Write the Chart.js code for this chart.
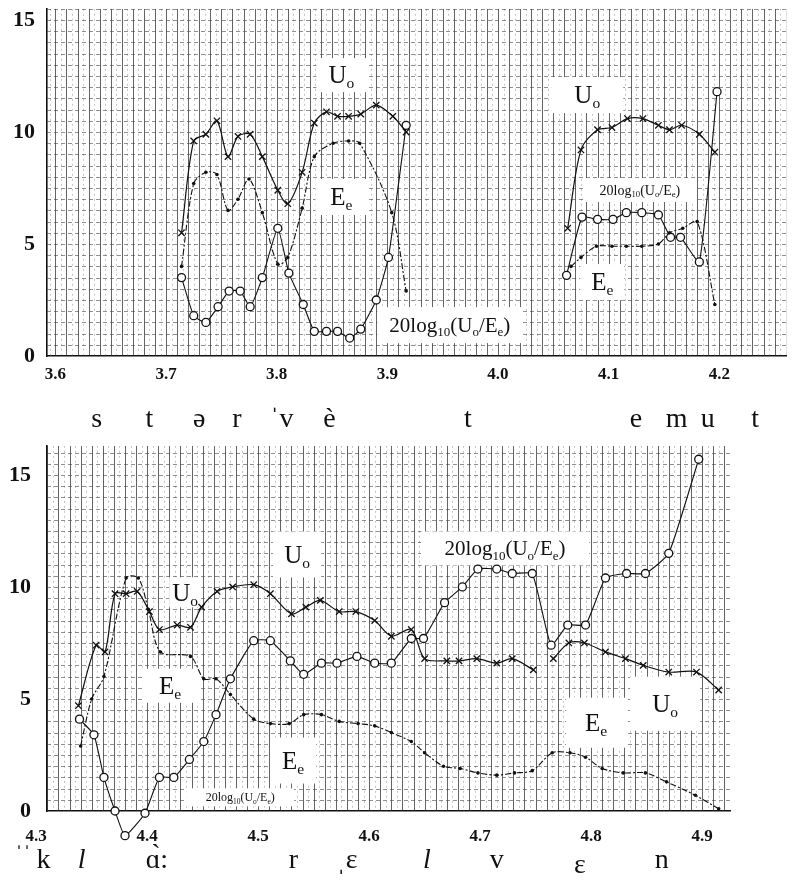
<!DOCTYPE html>
<html>
<head>
<meta charset="utf-8">
<script src="https://cdn.jsdelivr.net/npm/chart.js@4.4.1/dist/chart.umd.min.js"></script>
<style>
  html, body { margin: 0; padding: 0; background: #fff; }
  #wrap { position: relative; width: 792px; height: 892px; overflow: hidden; }
  canvas { position: absolute; left: 0; }
  #topChart { top: 0; width: 792px; height: 440px; }
  #bottomChart { top: 440px; width: 792px; height: 452px; }
</style>
</head>
<body>
<div id="wrap">
  <canvas id="topChart" width="792" height="440"></canvas>
  <canvas id="bottomChart" width="792" height="452"></canvas>
</div>
<script>
// ---- data ----
// top panel, left group
const uoLeftX = [3.714, 3.725, 3.736, 3.746, 3.756, 3.765, 3.776, 3.787, 3.801, 3.810, 3.823, 3.834, 3.845, 3.855, 3.865, 3.876, 3.890, 3.905, 3.917];
const uoLeftY = [5.5, 9.6, 9.9, 10.5, 8.9, 9.8, 9.9, 8.9, 7.4, 6.8, 8.2, 10.4, 10.9, 10.7, 10.7, 10.8, 11.2, 10.7, 10.0];
const eeLeftX = [3.714, 3.725, 3.736, 3.746, 3.756, 3.765, 3.775, 3.787, 3.801, 3.810, 3.823, 3.834, 3.851, 3.865, 3.875, 3.904, 3.917];
const eeLeftY = [4.0, 7.7, 8.2, 8.1, 6.5, 7.0, 7.9, 6.4, 4.1, 4.4, 6.6, 8.9, 9.5, 9.6, 9.5, 6.4, 2.9];
const dbLeftX = [3.714, 3.725, 3.736, 3.747, 3.757, 3.767, 3.776, 3.787, 3.801, 3.811, 3.824, 3.834, 3.845, 3.855, 3.866, 3.876, 3.890, 3.901, 3.917];
const dbLeftY = [3.5, 1.8, 1.5, 2.2, 2.9, 2.9, 2.2, 3.5, 5.7, 3.7, 2.3, 1.1, 1.1, 1.1, 0.8, 1.2, 2.5, 4.4, 10.3];

// top panel, right group
const uoRightX = [4.063, 4.075, 4.090, 4.103, 4.117, 4.131, 4.145, 4.155, 4.166, 4.182, 4.196];
const uoRightY = [5.7, 9.2, 10.1, 10.2, 10.6, 10.6, 10.3, 10.1, 10.3, 9.9, 9.1];
const eeRightX = [4.066, 4.075, 4.089, 4.103, 4.116, 4.130, 4.145, 4.155, 4.167, 4.180, 4.196];
const eeRightY = [4.0, 4.4, 4.9, 4.9, 4.9, 4.9, 5.0, 5.5, 5.7, 6.0, 2.3];
const dbRightX = [4.062, 4.076, 4.090, 4.104, 4.116, 4.130, 4.145, 4.156, 4.165, 4.182, 4.198];
const dbRightY = [3.6, 6.2, 6.1, 6.1, 6.4, 6.4, 6.3, 5.3, 5.3, 4.2, 11.8];

// bottom panel (null = break in the line)
const uoBotX = [4.338, 4.354, 4.362, 4.371, 4.381, 4.391, 4.402, 4.411, 4.427, 4.439, 4.449, 4.463, 4.477, 4.496, 4.511, 4.530, 4.543, 4.556, 4.573, 4.588, 4.605, 4.620, 4.638, 4.650, 4.670, 4.681, 4.697, 4.715, 4.729, 4.748, 4.757, 4.766, 4.780, 4.794, 4.813, 4.831, 4.847, 4.870, 4.895, 4.915];
const uoBotY = [4.7, 7.4, 7.1, 9.7, 9.7, 9.8, 8.9, 8.1, 8.3, 8.2, 9.1, 9.8, 10.0, 10.1, 9.7, 8.8, 9.1, 9.4, 8.9, 8.9, 8.5, 7.8, 8.1, 6.8, 6.7, 6.7, 6.8, 6.6, 6.8, 6.3, null, 6.8, 7.5, 7.5, 7.1, 6.8, 6.5, 6.2, 6.2, 5.4];
const eeBotX = [4.340, 4.350, 4.361, 4.381, 4.392, 4.401, 4.412, 4.439, 4.451, 4.462, 4.475, 4.496, 4.511, 4.528, 4.541, 4.557, 4.573, 4.590, 4.605, 4.620, 4.638, 4.650, 4.667, 4.682, 4.698, 4.715, 4.731, 4.747, 4.765, 4.781, 4.795, 4.810, 4.829, 4.849, 4.868, 4.894, 4.915];
const eeBotY = [2.9, 5.0, 6.0, 10.4, 10.4, 9.0, 7.1, 6.9, 5.9, 5.9, 5.2, 4.1, 3.9, 3.9, 4.3, 4.3, 4.0, 3.9, 3.8, 3.5, 3.1, 2.6, 2.0, 1.9, 1.7, 1.6, 1.7, 1.8, 2.6, 2.6, 2.4, 1.9, 1.7, 1.7, 1.3, 0.7, 0.1];
const dbBotX = [4.339, 4.352, 4.361, 4.371, 4.380, 4.398, 4.411, 4.424, 4.438, 4.451, 4.462, 4.475, 4.496, 4.511, 4.529, 4.541, 4.557, 4.571, 4.589, 4.605, 4.620, 4.638, 4.649, 4.668, 4.684, 4.698, 4.715, 4.729, 4.747, 4.764, 4.779, 4.795, 4.813, 4.832, 4.849, 4.870, 4.897];
const dbBotY = [4.1, 3.4, 1.5, 0.0, -1.1, -0.1, 1.5, 1.5, 2.3, 3.1, 4.3, 5.9, 7.6, 7.6, 6.7, 6.1, 6.6, 6.6, 6.9, 6.6, 6.6, 7.7, 7.7, 9.3, 10.0, 10.8, 10.8, 10.6, 10.6, 7.4, 8.3, 8.3, 10.4, 10.6, 10.6, 11.5, 15.7];

// tick labels
const xTicksTop = [3.6, 3.7, 3.8, 3.9, 4.0, 4.1, 4.2];
const xTicksBottom = [4.3, 4.4, 4.5, 4.6, 4.7, 4.8, 4.9];
const yTicks = [0, 5, 10, 15];

// text pieces ([text, isSubscript])
const UO = [['U', 0], ['o', 1]];
const EE = [['E', 0], ['e', 1]];
const DB = [['20log', 0], ['10', 1], ['(U', 0], ['o', 1], ['/E', 0], ['e', 1], [')', 0]];

const topNotes = [
  { x: 3.8585, y: 12.54, parts: UO, size: 25, w: 50, h: 34 },
  { x: 3.8585, y: 7.10, parts: EE, size: 25, w: 52, h: 36 },
  { x: 3.9565, y: 1.38, parts: DB, size: 21, w: 145, h: 36 },
  { x: 4.0807, y: 11.65, parts: UO, size: 25, w: 72, h: 36 },
  { x: 4.1283, y: 7.41, parts: DB, size: 14, w: 112, h: 24 },
  { x: 4.0942, y: 3.30, parts: EE, size: 25, w: 44, h: 36 }
];
const bottomNotes = [
  { x: 4.5351, y: 11.45, parts: UO, size: 25, w: 48, h: 46 },
  { x: 4.4342, y: 9.76, parts: UO, size: 25, w: 32, h: 30 },
  { x: 4.4207, y: 5.59, parts: EE, size: 25, w: 56, h: 34 },
  { x: 4.5315, y: 2.25, parts: EE, size: 25, w: 46, h: 46 },
  { x: 4.4838, y: 0.61, parts: DB, size: 12, w: 108, h: 18 },
  { x: 4.7225, y: 11.72, parts: DB, size: 21, w: 168, h: 34 },
  { x: 4.8045, y: 3.94, parts: EE, size: 25, w: 60, h: 50 },
  { x: 4.8667, y: 4.79, parts: UO, size: 25, w: 70, h: 54 }
];

// phonetic transcription under each panel
const topSounds = [
  { x: 3.6373, t: 's' }, { x: 3.6849, t: 't' }, { x: 3.7299, t: 'ə' }, { x: 3.7641, t: 'r' },
  { x: 3.8046, t: 'ˈv' }, { x: 3.8478, t: 'è' }, { x: 3.9728, t: 't' },
  { x: 4.1247, t: 'e' }, { x: 4.1615, t: 'm' }, { x: 4.1897, t: 'u' }, { x: 4.2325, t: 't' }
];
const bottomSounds = [
  { x: 4.2880, t: 'ˈˈ', size: 24, dy: -6 }, { x: 4.3066, t: 'k' }, { x: 4.3410, t: 'l', italic: true },
  { x: 4.4087, t: 'ɑ̀:' }, { x: 4.5318, t: 'r' }, { x: 4.5800, t: 'ˌɛ' },
  { x: 4.6520, t: 'l', italic: true }, { x: 4.7150, t: 'v' }, { x: 4.7900, t: 'ɛ', dy: 5 }, { x: 4.8637, t: 'n' }
];

const SERIF = '"Liberation Serif", "DejaVu Serif", serif';
const INK = '#111';

function drawRich(ctx, parts, cx, cy, size) {
  const sub = size * 0.62;
  let w = 0;
  parts.forEach(([t, s]) => { ctx.font = `${s ? sub : size}px ${SERIF}`; w += ctx.measureText(t).width; });
  let x = cx - w / 2;
  const base = cy + size * 0.33;
  ctx.textAlign = 'left';
  ctx.textBaseline = 'alphabetic';
  parts.forEach(([t, s]) => {
    ctx.font = `${s ? sub : size}px ${SERIF}`;
    ctx.fillText(t, x, s ? base + size * 0.2 : base);
    x += ctx.measureText(t).width;
  });
}

// graph paper + label boxes + transcription row
function makePaper(notes, sounds, rowBase) {
  return {
    id: 'paper',
    beforeDatasetsDraw(chart) {
      const { ctx, chartArea: a, scales: { x, y } } = chart;
      ctx.save();
      ctx.beginPath();
      ctx.rect(a.left, a.top, a.right - a.left, a.bottom - a.top);
      ctx.clip();
      ctx.lineWidth = 1;
      const i0 = Math.ceil(x.min * 200), i1 = Math.floor(x.max * 200);
      for (let i = i0; i <= i1; i++) {
        const px = Math.round(x.getPixelForValue(i / 200)) + 0.5;
        if (i % 2 === 0) { ctx.strokeStyle = 'rgba(40,40,40,0.72)'; ctx.setLineDash([]); }
        else { ctx.strokeStyle = 'rgba(110,110,110,0.4)'; ctx.setLineDash([2, 3]); }
        ctx.beginPath(); ctx.moveTo(px, a.top); ctx.lineTo(px, a.bottom); ctx.stroke();
      }
      ctx.strokeStyle = 'rgba(70,70,70,0.6)';
      ctx.setLineDash([4, 3]);
      const j0 = Math.ceil(y.min * 2), j1 = Math.floor(y.max * 2);
      for (let j = j0; j <= j1; j++) {
        const py = Math.round(y.getPixelForValue(j / 2)) + 0.5;
        ctx.beginPath(); ctx.moveTo(a.left, py); ctx.lineTo(a.right, py); ctx.stroke();
      }
      ctx.restore();

      ctx.save();
      notes.forEach(n => {
        const cx = x.getPixelForValue(n.x), cy = y.getPixelForValue(n.y);
        ctx.fillStyle = '#fff';
        ctx.fillRect(cx - n.w / 2, cy - n.h / 2, n.w, n.h);
        ctx.fillStyle = INK;
        drawRich(ctx, n.parts, cx, cy, n.size);
      });
      ctx.restore();

      // let points just below the axis (e.g. negative dB values) still be drawn
      chart._realArea = chart.chartArea;
      chart.chartArea = Object.assign({}, a, { bottom: a.bottom + 40 });
    },
    afterDatasetsDraw(chart) {
      if (chart._realArea) chart.chartArea = chart._realArea;
    },
    afterDraw(chart) {
      const { ctx, chartArea: a, scales: { x } } = chart;
      ctx.save();
      ctx.fillStyle = INK;
      ctx.textAlign = 'center';
      ctx.textBaseline = 'alphabetic';
      sounds.forEach(s => {
        ctx.font = `${s.italic ? 'italic ' : ''}${s.size || 28}px ${SERIF}`;
        ctx.fillText(s.t, x.getPixelForValue(s.x), a.bottom + rowBase + (s.dy || 0));
      });
      ctx.restore();
    }
  };
}

const STYLE = {
  uo: { borderColor: INK, borderWidth: 1.2, pointStyle: 'crossRot', pointRadius: 4.5, pointBorderWidth: 1.3, pointBorderColor: INK, tension: 0.3 },
  ee: { borderColor: INK, borderWidth: 1.1, borderDash: [6, 2, 2, 2], pointStyle: 'circle', pointRadius: 1.8, pointBackgroundColor: INK, pointBorderWidth: 0, tension: 0.3 },
  db: { borderColor: INK, borderWidth: 1.1, pointStyle: 'circle', pointRadius: 4, pointBackgroundColor: '#fff', pointBorderColor: INK, pointBorderWidth: 1.3, tension: 0.15 }
};

function series(xs, ys, kind) {
  return Object.assign({ data: xs.map((x, i) => ({ x, y: ys[i] })), fill: false, clip: false, spanGaps: false }, STYLE[kind]);
}

function makeChart(id, cfg) {
  const ctx = document.getElementById(id).getContext('2d');
  return new Chart(ctx, {
    type: 'line',
    data: { datasets: cfg.datasets },
    options: {
      responsive: false,
      animation: false,
      events: [],
      layout: { padding: cfg.padding },
      plugins: { legend: { display: false }, tooltip: { enabled: false } },
      scales: {
        x: {
          type: 'linear', min: cfg.xMin, max: cfg.xMax, bounds: 'data',
          grid: { display: false, drawTicks: false },
          border: { display: true, color: INK, width: 1.6 },
          ticks: { autoSkip: false, maxRotation: 0, padding: cfg.xPad, color: INK,
                   font: { family: SERIF, size: 17, weight: 'bold' }, callback: v => Number(v).toFixed(1) },
          afterBuildTicks: s => { s.ticks = cfg.xTicks.map(v => ({ value: v })); },
          afterFit: s => { s.height = cfg.xHeight; s.paddingLeft = 0; s.paddingRight = 0; }
        },
        y: {
          type: 'linear', min: 0, max: cfg.yMax, bounds: 'data',
          grid: { display: false, drawTicks: false },
          border: { display: true, color: INK, width: 1.6 },
          ticks: { padding: cfg.yPad, color: INK, font: { family: SERIF, size: 22, weight: 'bold' } },
          afterBuildTicks: s => { s.ticks = yTicks.map(v => ({ value: v })); },
          afterFit: s => { s.width = 47; s.paddingTop = 0; s.paddingBottom = 0; }
        }
      }
    },
    plugins: [cfg.paper]
  });
}

makeChart('topChart', {
  datasets: [
    series(uoLeftX, uoLeftY, 'uo'), series(eeLeftX, eeLeftY, 'ee'), series(dbLeftX, dbLeftY, 'db'),
    series(uoRightX, uoRightY, 'uo'), series(eeRightX, eeRightY, 'ee'), series(dbRightX, dbRightY, 'db')
  ],
  xMin: 3.5924, xMax: 4.2605, yMax: 15.5,
  xTicks: xTicksTop, xPad: 8, yPad: 12, xHeight: 84,
  padding: { top: 8.8, right: 2, left: 0, bottom: 0 },
  paper: makePaper(topNotes, topSounds, 71)
});

makeChart('bottomChart', {
  datasets: [
    series(uoBotX, uoBotY, 'uo'), series(eeBotX, eeBotY, 'ee'), series(dbBotX, dbBotY, 'db')
  ],
  xMin: 4.3097, xMax: 4.9252, yMax: 16.3,
  xTicks: xTicksBottom, xPad: 15, yPad: 16, xHeight: 81,
  padding: { top: 4, right: 62, left: 0, bottom: 0 },
  paper: makePaper(bottomNotes, bottomSounds, 57)
});
</script>
</body>
</html>
